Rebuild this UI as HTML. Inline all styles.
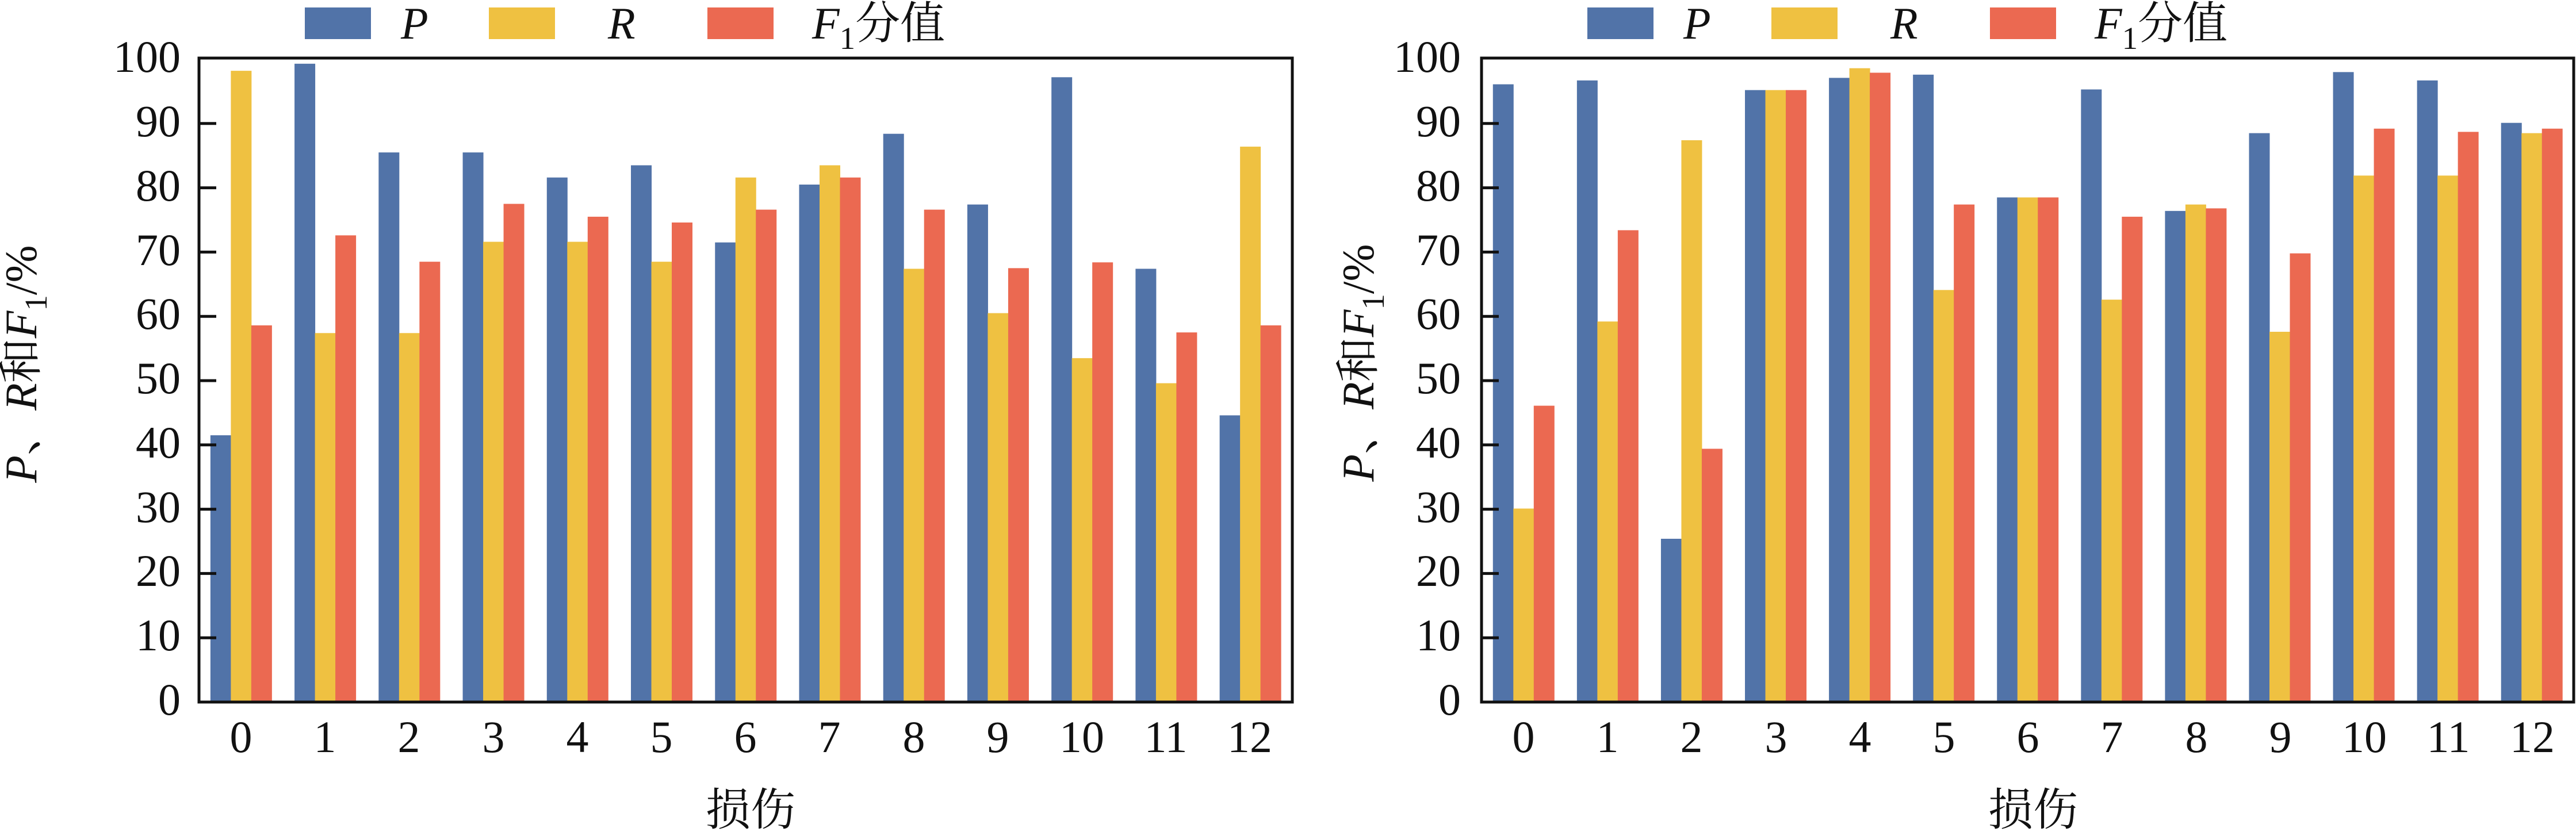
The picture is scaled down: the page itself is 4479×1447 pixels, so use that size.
<!DOCTYPE html>
<html><head><meta charset="utf-8"><style>
html,body{margin:0;padding:0;background:#fff;}
svg{display:block;}
text{font-family:"Liberation Serif","Noto Serif CJK SC",serif;fill:#111;}
.t{font-size:78px;}
.it{font-style:italic;}
.cj{font-family:"Liberation Serif","Noto Serif CJK SC",serif;}
</style></head><body>
<svg id="s" width="4479" height="1447" viewBox="0 0 4479 1447" xmlns="http://www.w3.org/2000/svg">
<g id="bars"></g>
<g id="axes" stroke="#111" fill="none" stroke-width="5">
<rect x="346" y="101" width="1901" height="1120"/>
<rect x="2576" y="101" width="1899" height="1120"/>
</g>
<g id="ticks" stroke="#111" stroke-width="5"></g>

<!-- left y tick labels -->
<g class="t" text-anchor="end">
<text x="314" y="1243">0</text><text x="314" y="1131">10</text><text x="314" y="1019">20</text><text x="314" y="908">30</text><text x="314" y="796">40</text><text x="314" y="684">50</text><text x="314" y="572">60</text><text x="314" y="461">70</text><text x="314" y="349">80</text><text x="314" y="237">90</text><text x="314" y="125">100</text>
<text x="2540" y="1243">0</text><text x="2540" y="1131">10</text><text x="2540" y="1019">20</text><text x="2540" y="908">30</text><text x="2540" y="796">40</text><text x="2540" y="684">50</text><text x="2540" y="572">60</text><text x="2540" y="461">70</text><text x="2540" y="349">80</text><text x="2540" y="237">90</text><text x="2540" y="125">100</text>
</g>
<!-- x tick labels -->
<g class="t" text-anchor="middle">
<text x="419" y="1308">0</text><text x="565" y="1308">1</text><text x="711" y="1308">2</text><text x="858" y="1308">3</text><text x="1004" y="1308">4</text><text x="1150" y="1308">5</text><text x="1296" y="1308">6</text><text x="1442" y="1308">7</text><text x="1589" y="1308">8</text><text x="1735" y="1308">9</text><text x="1881" y="1308">10</text><text x="2027" y="1308">11</text><text x="2173" y="1308">12</text>
<text x="2649" y="1308">0</text><text x="2795" y="1308">1</text><text x="2941" y="1308">2</text><text x="3088" y="1308">3</text><text x="3234" y="1308">4</text><text x="3380" y="1308">5</text><text x="3526" y="1308">6</text><text x="3672" y="1308">7</text><text x="3819" y="1308">8</text><text x="3965" y="1308">9</text><text x="4111" y="1308">10</text><text x="4257" y="1308">11</text><text x="4403" y="1308">12</text>
</g>
<!-- x titles -->
<text class="t cj" x="1305" y="1435" text-anchor="middle">损伤</text>
<text class="t cj" x="3535" y="1435" text-anchor="middle">损伤</text>
<!-- y titles -->
<text class="t" transform="translate(63,633) rotate(-90)" text-anchor="middle"><tspan class="it">P</tspan>、<tspan class="it">R</tspan>和<tspan class="it">F</tspan><tspan font-size="55" dy="18">1</tspan><tspan dy="-18">/%</tspan></text>
<text class="t" transform="translate(2388,631) rotate(-90)" text-anchor="middle"><tspan class="it">P</tspan>、<tspan class="it">R</tspan>和<tspan class="it">F</tspan><tspan font-size="55" dy="18">1</tspan><tspan dy="-18">/%</tspan></text>
<!-- legends -->
<g>
<rect x="530" y="13" width="115" height="55" fill="#5173a8"/>
<text class="t it" x="697" y="67">P</text>
<rect x="850" y="13" width="115" height="55" fill="#efc141"/>
<text class="t it" x="1057" y="67">R</text>
<rect x="1230" y="13" width="115" height="55" fill="#eb6951"/>
<text class="t" x="1412" y="67"><tspan class="it">F</tspan><tspan font-size="55" dy="18">1</tspan><tspan dy="-18">分值</tspan></text>

<rect x="2760" y="13" width="115" height="55" fill="#5173a8"/>
<text class="t it" x="2927" y="67">P</text>
<rect x="3080" y="13" width="115" height="55" fill="#efc141"/>
<text class="t it" x="3287" y="67">R</text>
<rect x="3460" y="13" width="115" height="55" fill="#eb6951"/>
<text class="t" x="3642" y="67"><tspan class="it">F</tspan><tspan font-size="55" dy="18">1</tspan><tspan dy="-18">分值</tspan></text>
</g>
</svg>
<script>
(function(){
var NS="http://www.w3.org/2000/svg";
var bars=document.getElementById("bars"),ticks=document.getElementById("ticks");
var cols=["#5173a8","#efc141","#eb6951"];
var L={P:[41.5,99.3,85.5,85.5,81.6,83.5,71.5,80.5,88.4,77.4,97.2,67.4,44.6],
R:[98.2,57.4,57.4,71.6,71.6,68.5,81.6,83.5,67.4,60.5,53.5,49.6,86.4],
F:[58.6,72.6,68.5,77.5,75.5,74.6,76.6,81.6,76.6,67.5,68.4,57.5,58.6]};
var Rr={P:[96.1,96.7,25.4,95.2,97.1,97.6,78.5,95.3,76.4,88.5,98,96.7,90.1],
R:[30.1,59.2,87.4,95.2,98.6,64.1,78.5,62.6,77.4,57.6,81.9,81.9,88.5],
F:[46.1,73.4,39.4,95.2,97.9,77.4,78.5,75.5,76.8,69.8,89.2,88.7,89.2]};
function y(v){return 1221-11.18*v;}
function draw(x0,W,d){
 var sp=W/13,bw=35.5;
 ["P","R","F"].forEach(function(k,j){
  d[k].forEach(function(v,i){
   var c=x0+sp*(i+0.5);
   var r=document.createElementNS(NS,"rect");
   r.setAttribute("x",c-53.25+j*bw);r.setAttribute("width",bw+0.5);
   r.setAttribute("y",y(v));r.setAttribute("height",1221-y(v));
   r.setAttribute("fill",cols[j]);bars.appendChild(r);
  });
 });
 for(var t=1;t<10;t++){
  var l=document.createElementNS(NS,"line");
  l.setAttribute("x1",x0);l.setAttribute("x2",x0+30);
  l.setAttribute("y1",y(t*10));l.setAttribute("y2",y(t*10));
  ticks.appendChild(l);
 }
}
draw(346,1901,L);draw(2576,1899,Rr);
})();
</script>
</body></html>
